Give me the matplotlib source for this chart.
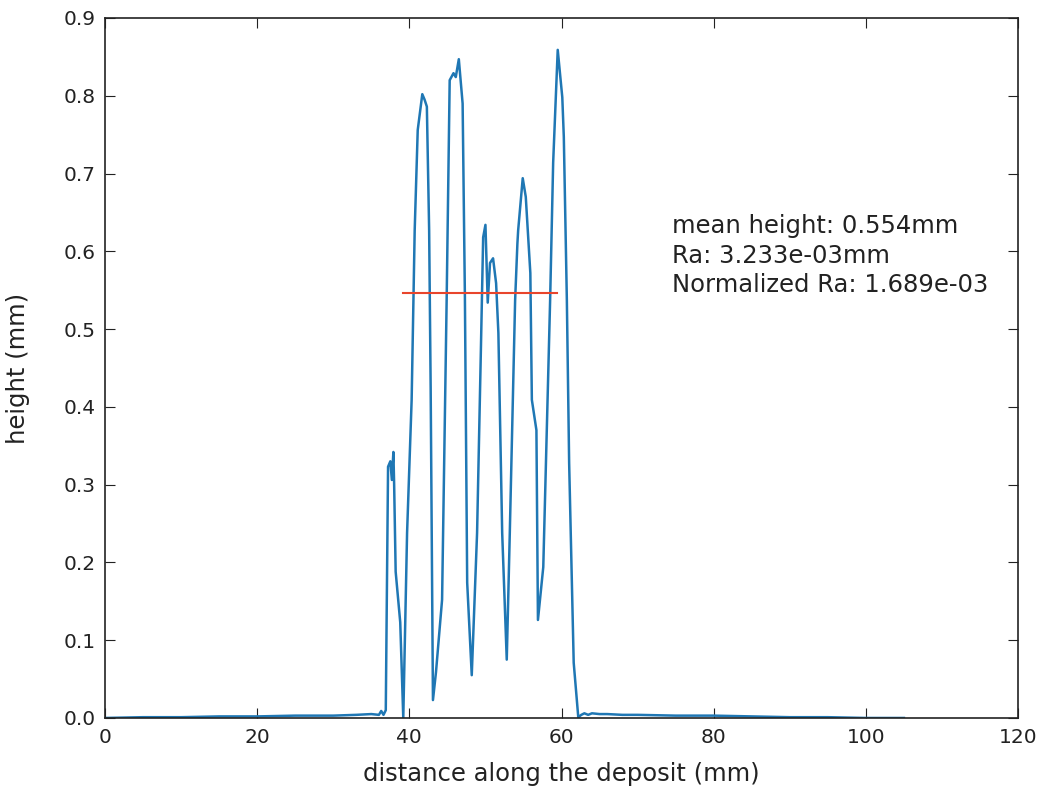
import matplotlib
matplotlib.use("Agg")
import matplotlib.pyplot as plt

# profile data (mm)
x_profile = [0, 5, 10, 15, 20, 25, 30, 33, 35, 36, 36.3, 36.6, 36.9,
             37.2, 37.5, 37.7, 37.9, 38.0, 38.2, 38.8, 39.2,
             39.7, 40.3, 40.7, 41.1, 41.7, 42.0, 42.3, 42.6, 42.8, 43.1,
             43.5, 44.3, 44.9, 45.3, 45.8, 46.1, 46.5, 47.0, 47.3, 47.6,
             48.2, 48.9, 49.4, 49.7, 50.0, 50.3, 50.6, 51.0, 51.4, 51.7,
             52.2, 52.8, 53.2, 53.9, 54.2, 54.3, 54.9, 55.3, 55.9, 56.1,
             56.7, 56.9, 57.6, 58.5, 58.9, 59.5, 60.1, 60.3, 60.7, 61.0,
             61.6, 62.2, 62.6, 63.0, 63.5, 64.0, 65.0, 66.0, 68.0, 70.0,
             75.0, 80.0, 85.0, 90.0, 95.0, 100.0, 105.0]
height_profile = [0.000, 0.001, 0.001, 0.002, 0.002, 0.003, 0.003, 0.004, 0.005, 0.004, 0.009, 0.004, 0.010,
                  0.323, 0.330, 0.306, 0.342, 0.300, 0.188, 0.123, 0.000,
                  0.238, 0.409, 0.627, 0.756, 0.802, 0.795, 0.786, 0.627, 0.424, 0.023,
                  0.059, 0.152, 0.537, 0.820, 0.829, 0.824, 0.847, 0.790, 0.541, 0.174,
                  0.055, 0.238, 0.473, 0.618, 0.634, 0.534, 0.585, 0.591, 0.559, 0.495,
                  0.238, 0.075, 0.238, 0.537, 0.610, 0.627, 0.694, 0.670, 0.572, 0.409,
                  0.370, 0.126, 0.194, 0.537, 0.714, 0.859, 0.798, 0.747, 0.537, 0.328,
                  0.071, 0.001, 0.004, 0.006, 0.004, 0.006, 0.005, 0.005, 0.004, 0.004,
                  0.003, 0.003, 0.002, 0.001, 0.001, 0.000, 0.000]

mean_x = [39.2, 59.4]
mean_y = [0.547, 0.547]

annotation_lines = ["mean height: 0.554mm", "Ra: 3.233e-03mm", "Normalized Ra: 1.689e-03"]
x_ticks = [0, 20, 40, 60, 80, 100, 120]
y_ticks = [0.0, 0.1, 0.2, 0.3, 0.4, 0.5, 0.6, 0.7, 0.8, 0.9]

fig = plt.figure(figsize=(10.45, 7.95), dpi=100)
ax = fig.add_axes([0.1005, 0.0969, 0.8737, 0.8805])
ax.plot(x_profile, height_profile, color="#1f77b4", lw=1.8)
ax.plot(mean_x, mean_y, color="#e8452c", lw=1.5)
ax.set_xlim(0, 120)
ax.set_ylim(0, 0.9)
ax.set_xticks(x_ticks)
ax.set_yticks(y_ticks)
ax.set_yticklabels([f"{v:.1f}" for v in y_ticks])
ax.tick_params(direction="in", top=True, right=True, length=7, labelsize=14.5, pad=7, colors="#222222")
for s in ax.spines.values():
    s.set_linewidth(1.2)
    s.set_color("#222222")
ax.set_xlabel("distance along the deposit (mm)", fontsize=17.5, color="#222222", labelpad=11)
ax.set_ylabel("height (mm)", fontsize=17.5, color="#222222", labelpad=24)

text_y = [0.6236, 0.585, 0.548]
for line, yy in zip(annotation_lines, text_y):
    ax.text(74.5, yy, line, fontsize=17.5, va="baseline", ha="left", color="#222222")
fig.savefig("out.png", dpi=100)
